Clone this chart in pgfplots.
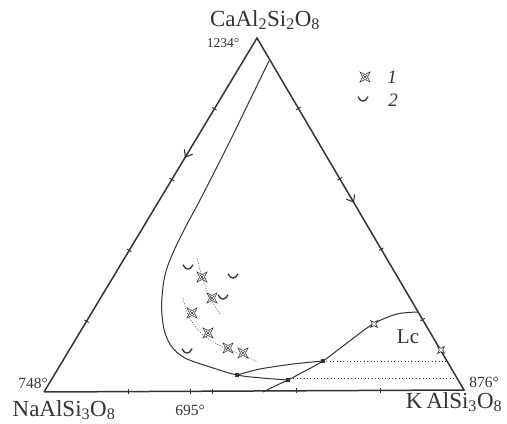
\documentclass[border=0pt]{standalone}
\usepackage{fontspec}
\setmainfont{Liberation Serif}
\usepackage{pgfplots}
\pgfplotsset{compat=1.18}

% four-pointed star with a cross (point type 1)
\pgfdeclareplotmark{quatre}{%
  \pgfpathmoveto{\pgfqpoint{\pgfplotmarksize}{\pgfplotmarksize}}%
  \pgfpathlineto{\pgfqpoint{0pt}{0.5\pgfplotmarksize}}%
  \pgfpathlineto{\pgfqpoint{-\pgfplotmarksize}{\pgfplotmarksize}}%
  \pgfpathlineto{\pgfqpoint{-0.5\pgfplotmarksize}{0pt}}%
  \pgfpathlineto{\pgfqpoint{-\pgfplotmarksize}{-\pgfplotmarksize}}%
  \pgfpathlineto{\pgfqpoint{0pt}{-0.5\pgfplotmarksize}}%
  \pgfpathlineto{\pgfqpoint{\pgfplotmarksize}{-\pgfplotmarksize}}%
  \pgfpathlineto{\pgfqpoint{0.5\pgfplotmarksize}{0pt}}%
  \pgfpathclose
  \pgfpathmoveto{\pgfqpoint{0.45\pgfplotmarksize}{0.45\pgfplotmarksize}}%
  \pgfpathlineto{\pgfqpoint{-0.45\pgfplotmarksize}{-0.45\pgfplotmarksize}}%
  \pgfpathmoveto{\pgfqpoint{-0.45\pgfplotmarksize}{0.45\pgfplotmarksize}}%
  \pgfpathlineto{\pgfqpoint{0.45\pgfplotmarksize}{-0.45\pgfplotmarksize}}%
  \pgfusepathqstroke}
% open four-pointed star (points on the boundary curves)
\pgfdeclareplotmark{quatreopen}{%
  \pgfpathmoveto{\pgfqpoint{\pgfplotmarksize}{\pgfplotmarksize}}%
  \pgfpathlineto{\pgfqpoint{0pt}{0.5\pgfplotmarksize}}%
  \pgfpathlineto{\pgfqpoint{-\pgfplotmarksize}{\pgfplotmarksize}}%
  \pgfpathlineto{\pgfqpoint{-0.5\pgfplotmarksize}{0pt}}%
  \pgfpathlineto{\pgfqpoint{-\pgfplotmarksize}{-\pgfplotmarksize}}%
  \pgfpathlineto{\pgfqpoint{0pt}{-0.5\pgfplotmarksize}}%
  \pgfpathlineto{\pgfqpoint{\pgfplotmarksize}{-\pgfplotmarksize}}%
  \pgfpathlineto{\pgfqpoint{0.5\pgfplotmarksize}{0pt}}%
  \pgfpathclose
  \pgfusepathqfillstroke}
% cup (point type 2)
\pgfdeclareplotmark{cup}{%
  \pgfpathmoveto{\pgfqpoint{-\pgfplotmarksize}{0.45\pgfplotmarksize}}%
  \pgfpathcurveto{\pgfqpoint{-0.5\pgfplotmarksize}{-0.7\pgfplotmarksize}}%
                 {\pgfqpoint{0.5\pgfplotmarksize}{-0.7\pgfplotmarksize}}%
                 {\pgfqpoint{\pgfplotmarksize}{0.45\pgfplotmarksize}}%
  \pgfusepathqstroke}
% open arrowhead pointing along +x
\pgfdeclareplotmark{chev}{%
  \pgfpathmoveto{\pgfqpoint{-\pgfplotmarksize}{0.8\pgfplotmarksize}}%
  \pgfpathlineto{\pgfqpoint{0pt}{0pt}}%
  \pgfpathlineto{\pgfqpoint{-\pgfplotmarksize}{-0.8\pgfplotmarksize}}%
  \pgfusepathqstroke}

\colorlet{ink}{black!80}

\begin{document}
\begin{tikzpicture}
\begin{axis}[
  scale only axis, width=507pt, height=423pt,
  xmin=0, xmax=507, ymin=0, ymax=423,
  hide axis, clip=false,
]
\path (axis cs:0,0) rectangle (axis cs:507,423);

% triangle Ab - An - Or
\addplot[ink, line width=1.5pt, line join=miter] coordinates {
  (44,31) (257,385) (464,33) (44,31)};

% 20 % marks on the edges
\addplot[only marks, ink, mark=|, mark size=2.6pt, line width=0.9pt, mark options={rotate=59}]
  coordinates {(214.4,314.2) (171.8,243.4) (129.2,172.6) (86.6,101.8)};
\addplot[only marks, ink, mark=|, mark size=2.6pt, line width=0.9pt, mark options={rotate=-59.5}]
  coordinates {(298.4,314.6) (339.8,244.2) (381.2,173.8) (422.6,103.4)};
\addplot[only marks, ink, mark=|, mark size=2.6pt, line width=0.9pt]
  coordinates {(128,31.4) (190,31.7) (212,31.8) (296,32.2) (380,32.6)};

% direction arrows on the binary edges
\addplot[only marks, ink, mark=chev, mark size=6pt, line width=1.1pt, mark options={rotate=239}]
  coordinates {(185.4,266)};
\addplot[only marks, ink, mark=chev, mark size=6pt, line width=1.1pt, mark options={rotate=300.5}]
  coordinates {(353.5,221)};

% plagioclase - alkali feldspar boundary
\addplot[ink, line width=1pt, smooth, tension=0.55] coordinates {
  (269,362) (250,323) (227,276) (200,223) (185,195) (172,168) (165,148)
  (162,126) (162,108) (165,90) (172,76) (185,65) (210,56) (237,48)
  (262,45) (288,43)};
\addplot[ink, line width=1pt, smooth, tension=0.5] coordinates {
  (237,48) (260,54) (293,59) (323,62)};
% leucite field boundary
\addplot[ink, line width=1pt, smooth, tension=0.5] coordinates {
  (263,31) (275,37) (288,43) (305,52) (323,62) (347,80) (373,99)
  (397,109) (418,111)};

% tie lines
\addplot[ink, line width=0.8pt, dash pattern=on 0.8pt off 2.6pt] coordinates {
  (323,62) (447,62)};
\addplot[ink, line width=0.8pt, dash pattern=on 0.8pt off 2.6pt] coordinates {
  (290,45) (457,45)};

% invariant points
\addplot[only marks, ink, mark=square*, mark size=1.6pt] coordinates {
  (237,48) (288,43) (323,62)};
\addplot[only marks, ink, mark=quatreopen, mark size=3.4pt, fill=white, line width=0.7pt]
  coordinates {(374,99) (441,73)};

% trends of the compositions
\addplot[ink, line width=0.5pt, dash pattern=on 1pt off 1.6pt, smooth] coordinates {
  (197,165) (200,153) (204,140) (210,126) (216,115) (221,108)};
\addplot[ink, line width=0.5pt, dash pattern=on 1pt off 1.6pt, smooth] coordinates {
  (183,125) (186,113) (192,101) (200,91) (210,83) (225,75) (242,68) (258,61)};

% compositions: 1
\addplot[only marks, ink, mark=quatre, mark size=5pt, line width=0.55pt] coordinates {
  (202,146) (212,125) (192,110) (208,90) (228,75) (243,70)};
% compositions: 2
\addplot[only marks, ink, mark=cup, mark size=5pt, line width=1.3pt] coordinates {
  (188,156) (233,147) (223,126) (187,72)};

% key
\addplot[only marks, ink, mark=quatre, mark size=5pt, line width=0.55pt] coordinates {(365,346)};
\addplot[only marks, ink, mark=cup, mark size=5pt, line width=1.3pt] coordinates {(363,324)};
\node[ink, font=\fontsize{19}{21}\selectfont\itshape] at (axis cs:392,346) {1};
\node[ink, font=\fontsize{19}{21}\selectfont\itshape] at (axis cs:393,323) {2};

% end members and melting temperatures
\node[ink, font=\fontsize{23}{25}\selectfont] at (axis cs:265,403)
  {CaAl\textsubscript{2}Si\textsubscript{2}O\textsubscript{8}};
\node[ink, font=\fontsize{23}{25}\selectfont] at (axis cs:64,13)
  {NaAlSi\textsubscript{3}O\textsubscript{8}};
\node[ink, font=\fontsize{23}{25}\selectfont] at (axis cs:454,21)
  {K\,AlSi\textsubscript{3}O\textsubscript{8}};
\node[ink, font=\fontsize{13.5}{15}\selectfont] at (axis cs:223,380) {1234°};
\node[ink, font=\fontsize{15.5}{17}\selectfont] at (axis cs:33,40) {748°};
\node[ink, font=\fontsize{15.5}{17}\selectfont] at (axis cs:190,13) {695°};
\node[ink, font=\fontsize{15.5}{17}\selectfont] at (axis cs:484,41) {876°};
\node[ink, font=\fontsize{21}{23}\selectfont] at (axis cs:408,86) {Lc};
\end{axis}
\end{tikzpicture}
\end{document}
